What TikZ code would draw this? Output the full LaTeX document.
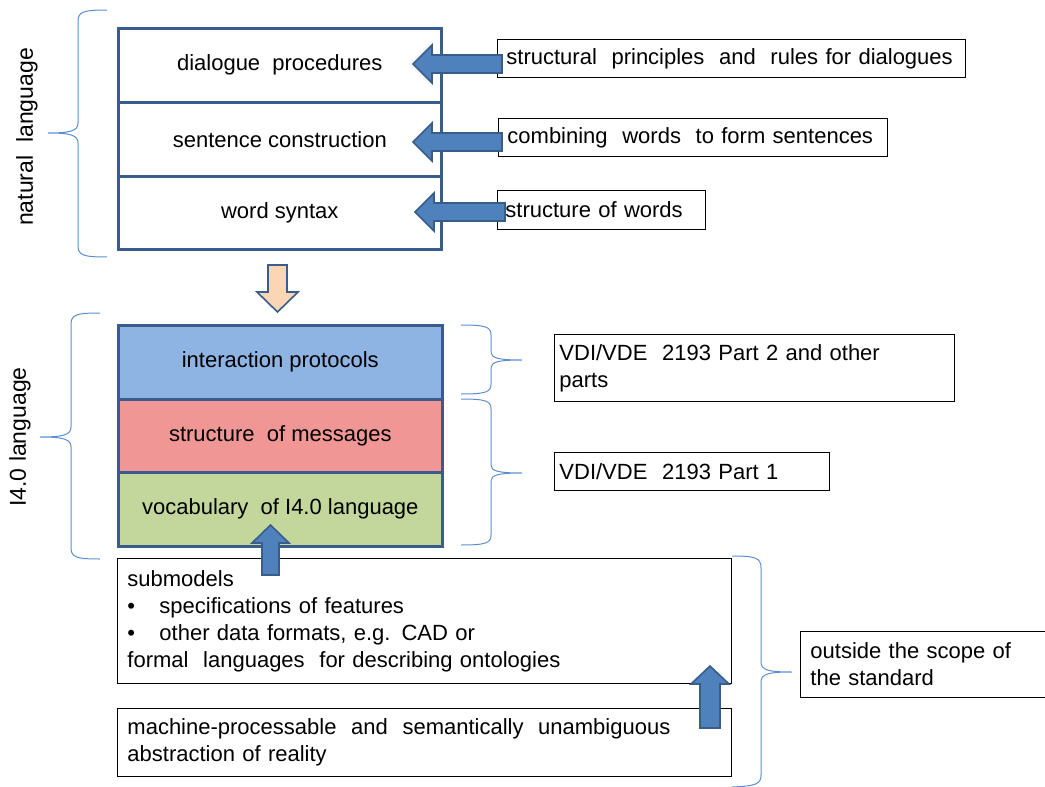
\documentclass[tikz,border=0pt]{standalone}
\usepackage{fontspec}
\setmainfont{Liberation Sans}
\usetikzlibrary{positioning}
\definecolor{darkblue}{HTML}{385D8A}
\definecolor{arrowblue}{HTML}{4F81BD}
\definecolor{bracecol}{HTML}{5B8FD0}
\definecolor{protblue}{HTML}{8EB4E3}
\definecolor{msgred}{HTML}{F09694}
\definecolor{vocgreen}{HTML}{C3D69B}
\definecolor{peach}{HTML}{FCD5B5}
\tikzset{
  x=1pt, y=-1pt,
  txt/.style={font=\fontsize{22}{27}\selectfont},
  layer/.style={draw=darkblue, line width=2.6pt, txt, anchor=north west, inner sep=0pt},
  plainbox/.style={draw=black, line width=0.9pt, fill=white, txt, anchor=north west, inner sep=0pt, align=left},
  blockarrow/.style={draw=darkblue, line width=1.6pt, fill=arrowblue, line join=miter},
  peacharrow/.style={draw=darkblue, line width=1.6pt, fill=peach, line join=miter},
  bracepath/.style={draw=bracecol, line width=1pt},
}
\begin{document}
\begin{tikzpicture}
\useasboundingbox (0,0) rectangle (1045,787);
\fill[white] (0,0) rectangle (1045,787);

% ---------- natural language block ----------
\node[layer, minimum width=323pt, minimum height=74pt] (dlg) at (117,27) {dialogue\ \ procedures};
\node[layer, minimum width=323pt, minimum height=74pt] (sent) at (117,101) {sentence construction};
\node[layer, minimum width=323pt, minimum height=73pt] (word) at (117,175) {word syntax};

% label boxes
\node[plainbox, minimum width=468pt, minimum height=38pt, text width=450pt, inner xsep=9pt] (lab1) at (497,39) {structural\ \ principles\ \ and\ \ rules for dialogues};
\node[plainbox, minimum width=389pt, minimum height=38pt, text width=371pt, inner xsep=9pt] (lab2) at (498,118) {combining\ \ words\ \ to form sentences};
\node[plainbox, minimum width=208pt, minimum height=39pt, text width=192pt, inner xsep=8pt] (lab3) at (497,190) {structure of words};

% left block arrows
\draw[blockarrow] (502,55) -- (432,55) -- (432,45) -- (413,64) -- (432,83) -- (432,73) -- (502,73) -- cycle;
\draw[blockarrow] (502,133) -- (432,133) -- (432,123) -- (413,142) -- (432,161) -- (432,151) -- (502,151) -- cycle;
\draw[blockarrow] (505,203) -- (434,203) -- (434,193) -- (415,212) -- (434,231) -- (434,221) -- (505,221) -- cycle;

% natural language brace
\draw[bracepath] (107,10) .. controls (82,10) and (78,12) .. (78,22)
  -- (78,123) .. controls (78,131) and (70,133) .. (48,133)
  .. controls (70,133) and (78,135) .. (78,143)
  -- (78,245) .. controls (78,255) and (82,257) .. (107,257);
\node[font=\fontsize{23}{27}\selectfont, rotate=90] (natlang) at (27,137) {natural\ \ language};

% peach arrow
\draw[peacharrow] (268,265) -- (287,265) -- (287,292) -- (298,292) -- (277.5,312) -- (257,292) -- (268,292) -- cycle;

% ---------- I4.0 block ----------
\node[layer, fill=protblue, minimum width=324pt, minimum height=74pt] (prot) at (117,324) {interaction protocols};
\node[layer, fill=msgred, minimum width=324pt, minimum height=73pt] (msg) at (117,398) {structure\ \ of messages};
\node[layer, fill=vocgreen, minimum width=324pt, minimum height=74pt] (voc) at (117,471) {vocabulary\ \ of I4.0 language};

% I4.0 left brace
\draw[bracepath] (100,313) .. controls (75,313) and (71,315) .. (71,325)
  -- (71,427) .. controls (71,435) and (63,437) .. (40,437)
  .. controls (63,437) and (71,439) .. (71,447)
  -- (71,547) .. controls (71,557) and (75,559) .. (100,559);
\node[font=\fontsize{23}{27}\selectfont, rotate=90] (i4lang) at (20,437) {I4.0 language};

% right braces
\draw[bracepath] (461,325) .. controls (486,325) and (491,327) .. (491,335)
  -- (491,352) .. controls (491,358) and (498,360) .. (522,360)
  .. controls (498,360) and (491,362) .. (491,368)
  -- (491,384) .. controls (491,392) and (486,394) .. (461,394);
\draw[bracepath] (461,399) .. controls (486,399) and (491,401) .. (491,409)
  -- (491,465) .. controls (491,471) and (498,473) .. (522,473)
  .. controls (498,473) and (491,475) .. (491,481)
  -- (491,535) .. controls (491,543) and (486,545) .. (461,545);

\node[plainbox, minimum width=400pt, minimum height=67pt, text width=390pt, inner xsep=5pt] (vdi2) at (554,334) {VDI/VDE\ \ 2193 Part 2 and other\\parts};
\node[plainbox, minimum width=275pt, minimum height=38pt, text width=265pt, inner xsep=5pt] (vdi1) at (554,452) {VDI/VDE\ \ 2193 Part\ 1};

% ---------- bottom ----------
\node[plainbox, minimum width=614pt, minimum height=125pt, text width=594pt, inner xsep=10pt] (sub) at (117,558)
  {submodels\\
   \makebox[32pt][l]{•}specifications of features\\
   \makebox[32pt][l]{•}other data formats, e.g. CAD or\\
   formal\ \ languages\ \ for describing ontologies};
\node[plainbox, minimum width=614pt, minimum height=68pt, text width=594pt, inner xsep=10pt] (mach) at (117,708)
  {machine-processable\ \ and\ \ semantically\ \ unambiguous\\abstraction of reality};

% up arrows
\draw[blockarrow] (262,575) -- (262,543) -- (252,543) -- (270.5,525) -- (289,543) -- (279,543) -- (279,575) -- cycle;
\draw[blockarrow] (700,728) -- (700,684) -- (691,684) -- (710,666) -- (729,684) -- (720,684) -- (720,728) -- cycle;

% outside brace
\draw[bracepath] (732,556) .. controls (756,556) and (761,558) .. (761,568)
  -- (761,662) .. controls (761,670) and (768,672) .. (792,672)
  .. controls (768,672) and (761,674) .. (761,682)
  -- (761,775) .. controls (761,784) and (756,786) .. (732,787);
\node[plainbox, minimum width=250pt, minimum height=66pt, text width=240pt, inner xsep=10pt] (outside) at (800,631) {outside the scope of\\the standard};
\end{tikzpicture}
\end{document}
